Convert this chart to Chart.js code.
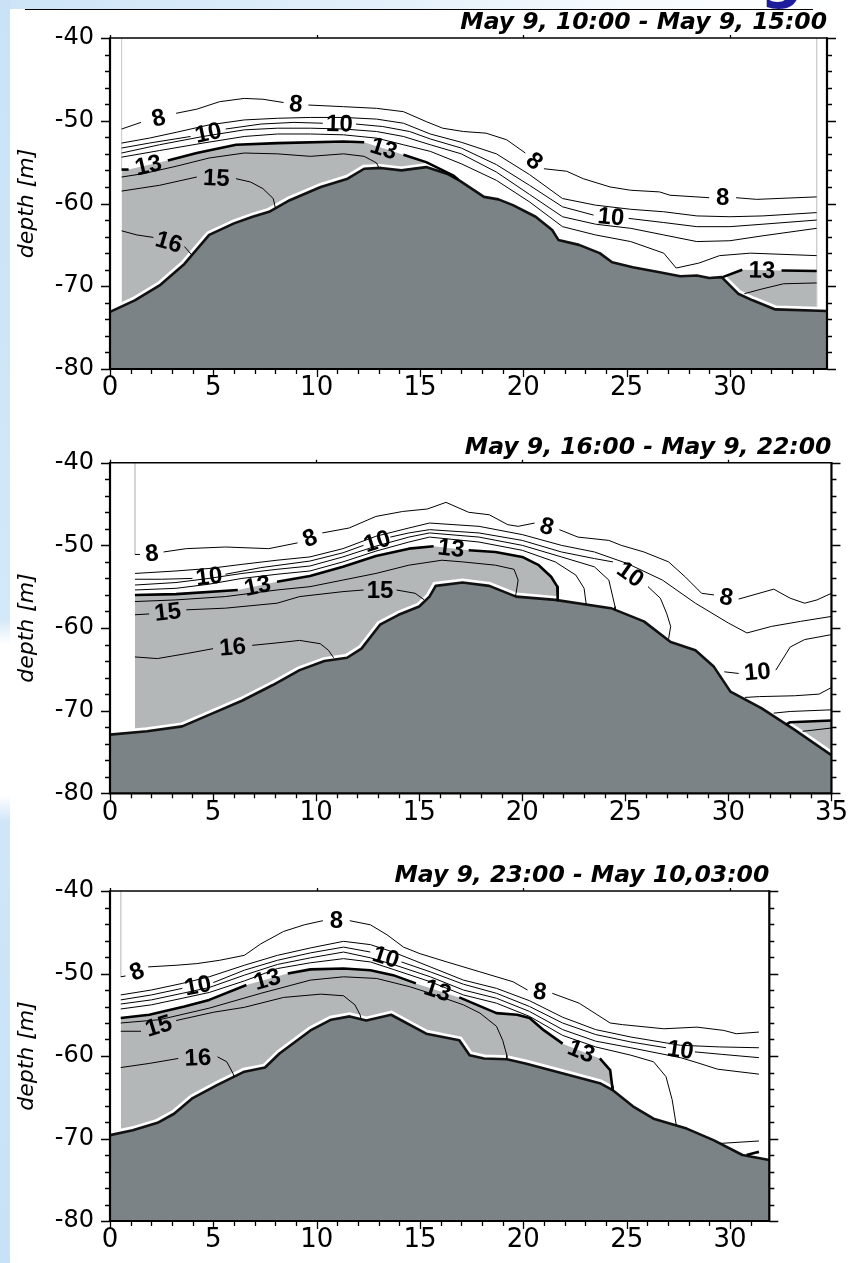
<!DOCTYPE html>
<html>
<head>
<meta charset="utf-8">
<script src="https://cdn.jsdelivr.net/npm/chart.js@4.4.1/dist/chart.umd.min.js"></script>
<style>
  html, body { margin: 0; padding: 0; background: #fff; }
  #page { position: relative; width: 852px; height: 1263px; overflow: hidden; background: #fff; }
  .topstrip { position: absolute; left: 0; top: 0; width: 852px; height: 9px;
    background: linear-gradient(to right, #cce4f7, #e3f0fa 45%, #f7fbfe 75%, #ffffff); }
  .leftstrip { position: absolute; left: 0; top: 0; width: 10px; height: 1263px;
    background: linear-gradient(to bottom, #c9e2f6 0%, #d3e8f8 49%, #ffffff 51%, #ffffff 63%, #d0e6f8 65%, #c7e1f6 100%); }
  .rule { position: absolute; left: 25px; top: 9px; width: 788px; height: 1px; background: #000; }
  .gclip { position: absolute; left: 758px; top: 0; width: 45px; height: 11px; overflow: hidden; }
  .gclip span { position: absolute; left: 2px; top: -55px; font: bold 60px/60px "DejaVu Sans"; color: #1d1d9b; }
  .box { position: absolute; left: 0; }
  canvas { display: block; }
</style>
</head>
<body>
<div id="page">
  <div class="topstrip"></div>
  <div class="leftstrip"></div>
  <div class="rule"></div>
  <div class="gclip"><span>g</span></div>
  <div class="box" style="top:0px"><canvas id="c1" width="852" height="420"></canvas></div>
  <div class="box" style="top:420px"><canvas id="c2" width="852" height="420"></canvas></div>
  <div class="box" style="top:840px"><canvas id="c3" width="852" height="423"></canvas></div>
</div>
<script>
// tick labels
const depthTicks = [-80, -70, -60, -50, -40];
const distTicks = [0, 5, 10, 15, 20, 25, 30, 35];

// ---------- panel 1 : May 9, 10:00 - May 9, 15:00 ----------
const p1Title = 'May 9, 10:00 - May 9, 15:00';
const p1XMax = 34.7;
const p1Bottom = [[0,-73.1],[1.2,-71.7],[2.4,-69.9],[3.6,-67.3],[4.8,-63.8],[6.0,-62.4],[6.9,-61.6],[7.7,-61.0],[8.7,-59.6],[10.2,-58.0],[11.5,-57.0],[12.3,-55.8],[13.1,-55.7],[14.1,-56.0],[15.3,-55.6],[16.3,-56.4],[16.9,-57.2],[18.1,-59.2],[18.8,-59.5],[19.5,-60.2],[20.6,-61.6],[21.4,-63.2],[21.7,-64.4],[22.7,-65.0],[23.7,-66.0],[24.3,-67.1],[25.3,-67.7],[26.6,-68.3],[27.6,-68.8],[28.4,-68.7],[29.0,-69.0],[29.6,-68.9],[30.4,-70.9],[31.1,-71.7],[32.2,-72.8],[34.7,-73.0]];
const p1C8 = [[0.56,-51.0],[1.5,-50.2],[3.2,-49.1],[4.2,-48.6],[5.3,-47.7],[6.5,-47.3],[7.4,-47.4],[8.4,-47.8],[9.6,-48.1],[11.3,-48.3],[12.9,-48.5],[14.2,-48.9],[15.3,-50.1],[16.1,-50.9],[17.1,-51.3],[18.2,-51.5],[19.2,-52.3],[20.1,-53.9],[21.0,-55.8],[22.1,-56.1],[22.9,-57.0],[24.2,-58.0],[25.2,-58.4],[26.6,-58.6],[27.1,-59.0],[29.0,-59.3],[30.3,-59.3],[31.3,-59.5],[34.2,-59.2]];
const p1C9 = [[0.56,-52.7],[1.9,-52.1],[3.2,-51.4],[4.8,-50.5],[6.5,-49.9],[8.1,-49.7],[9.7,-49.6],[11.3,-49.6],[12.9,-49.8],[14.2,-50.3],[15.5,-51.6],[17.0,-52.6],[18.7,-54.0],[20.3,-56.5],[21.9,-59.4],[23.5,-60.2],[25.2,-60.7],[26.8,-61.0],[28.4,-61.5],[30.0,-61.6],[31.6,-61.5],[34.2,-61.1]];
const p1C10 = [[0.56,-53.3],[1.9,-52.7],[3.9,-51.9],[5.6,-51.0],[7.3,-50.4],[8.9,-50.2],[10.3,-50.3],[11.9,-50.4],[13.2,-50.7],[14.5,-51.3],[15.5,-52.2],[17.0,-53.3],[18.7,-55.3],[20.3,-57.8],[21.9,-60.4],[23.4,-61.4],[25.1,-61.8],[26.8,-62.3],[28.4,-62.8],[30.0,-62.8],[31.6,-62.5],[34.2,-62.0]];
const p1C11 = [[0.56,-53.9],[2.4,-52.9],[4.5,-51.9],[6.5,-51.1],[8.1,-50.9],[9.7,-50.9],[11.3,-51.0],[12.9,-51.3],[14.2,-51.9],[15.5,-52.9],[17.0,-54.0],[18.7,-56.2],[20.3,-58.9],[21.9,-61.6],[23.5,-62.5],[25.2,-63.0],[26.8,-63.8],[28.4,-64.6],[30.0,-64.5],[31.6,-63.9],[34.2,-63.0]];
const p1C12 = [[0.56,-54.4],[2.4,-53.6],[4.5,-52.7],[6.5,-51.9],[8.1,-51.6],[9.7,-51.6],[11.3,-51.7],[12.9,-52.1],[14.2,-52.9],[15.5,-53.7],[17.0,-55.2],[18.7,-57.2],[20.3,-59.8],[21.9,-62.8],[23.5,-63.8],[25.2,-64.6],[26.8,-66.0],[27.4,-67.8],[28.5,-67.2],[29.5,-66.3],[31.0,-66.0],[34.2,-66.3]];
const p1C13a = [[0.56,-55.9],[0.9,-55.9],[2.8,-54.8],[4.2,-53.9],[6.1,-52.9],[8.1,-52.7],[11.3,-52.5],[12.3,-52.6],[14.2,-54.1],[15.3,-55.0],[16.6,-56.6],[16.85,-57.1]];
const p1C13b = [[29.65,-68.9],[30.6,-68.0],[32.5,-68.1],[34.2,-68.15]];
const p1C14a = [[0.56,-56.8],[1.6,-56.4],[3.2,-55.5],[4.8,-54.5],[6.5,-53.9],[8.1,-54.0],[9.7,-54.3],[11.3,-54.0],[12.3,-54.3],[12.9,-55.1],[13.0,-55.6]];
const p1C14b = [[30.7,-70.9],[31.6,-70.3],[32.6,-69.7],[34.2,-69.6]];
const p1C15 = [[0.56,-58.5],[2.4,-57.8],[4.2,-56.8],[6.1,-57.0],[6.8,-57.4],[7.4,-58.2],[7.9,-59.4],[8.0,-60.5]];
const p1C16 = [[0.56,-63.3],[1.3,-63.8],[2.1,-64.1],[3.6,-65.2],[3.95,-66.2]];
const p1Edges = [[[0.56,-40],[0.56,-55.9]], [[34.2,-40],[34.2,-73.0]]];
// [level, line, label segments]
const p1Contours = [
  [8, p1C8, [1, 7, 17, 25]], [9, p1C9, []], [10, p1C10, [2, 6, 15]], [11, p1C11, []], [12, p1C12, []],
  [13, p1C13a, [1, 7]], [13, p1C13b, [1]], [14, p1C14a, []], [14, p1C14b, []], [15, p1C15, [2]], [16, p1C16, [2]]
];

// ---------- panel 2 : May 9, 16:00 - May 9, 22:00 ----------
const p2Title = 'May 9, 16:00 - May 9, 22:00';
const p2XMax = 35;
const p2Bottom = [[0,-72.9],[1.8,-72.5],[3.5,-71.9],[5.0,-70.3],[6.4,-68.8],[7.9,-66.9],[9.2,-65.1],[10.4,-64.0],[11.5,-63.6],[12.2,-62.5],[13.1,-59.6],[14.0,-58.4],[15.0,-57.4],[15.5,-56.2],[15.8,-54.9],[17.1,-54.5],[18.4,-54.9],[19.7,-56.2],[21.6,-56.6],[24.3,-57.6],[25.9,-59.2],[27.2,-61.7],[28.4,-62.7],[29.3,-64.7],[30.1,-67.7],[31.6,-69.7],[33.2,-72.3],[35,-75.4]];
const p2C8 = [[1.21,-51.1],[1.45,-51.1],[2.6,-50.8],[3.7,-50.4],[5.6,-50.2],[7.7,-50.4],[9.1,-49.7],[10.3,-48.5],[11.6,-47.9],[12.9,-46.5],[14.2,-45.9],[15.4,-45.6],[16.3,-44.8],[17.4,-46.0],[18.4,-46.3],[19.3,-47.5],[19.8,-47.7],[20.6,-47.3],[21.8,-48.1],[22.7,-49.0],[24.2,-49.4],[24.8,-50.0],[25.9,-50.8],[27.1,-52.0],[27.9,-53.8],[28.7,-55.8],[29.3,-56.0],[30.5,-56.5],[32.2,-55.3],[33.0,-56.4],[33.7,-57.0],[34.3,-56.6],[35,-55.8]];
const p2C9 = [[1.21,-53.4],[3.2,-53.1],[4.8,-52.8],[6.4,-52.3],[8.1,-51.8],[9.7,-51.4],[11.3,-50.4],[12.9,-48.9],[14.5,-47.9],[15.5,-47.3],[17.9,-47.7],[20.0,-48.7],[21.9,-50.0],[23.5,-50.8],[25.1,-52.2],[26.8,-54.2],[28.4,-57.0],[30.0,-59.4],[30.9,-60.6],[32.1,-59.8],[33.5,-59.2],[35,-58.6]];
const p2C10 = [[1.21,-54.1],[2.5,-54.1],[4.0,-54.0],[5.6,-53.5],[7.3,-52.7],[9.7,-51.9],[11.3,-50.9],[12.3,-50.0],[13.6,-49.0],[14.5,-48.5],[15.5,-48.1],[17.9,-48.5],[20.0,-49.4],[21.9,-50.8],[23.5,-51.6],[24.4,-52.0],[26.1,-55.0],[26.7,-56.4],[27.0,-58.2],[27.2,-59.8],[27.1,-61.3]];
const p2C10r = [[29.8,-65.3],[30.5,-65.5],[32.3,-65.1],[33.0,-62.3],[33.7,-61.4],[35,-60.8]];
const p2C11 = [[1.21,-54.8],[3.2,-54.5],[4.8,-54.0],[6.4,-53.4],[8.1,-52.9],[9.7,-52.5],[11.3,-51.4],[12.9,-50.1],[14.5,-49.0],[15.5,-48.5],[17.9,-49.0],[20.0,-50.0],[21.9,-51.4],[23.5,-52.6],[24.2,-54.2],[24.5,-57.4],[24.5,-57.8]];
const p2C11r = [[30.8,-68.4],[31.5,-68.3],[33.2,-68.2],[34.4,-68.0],[35,-67.2]];
const p2C12 = [[1.21,-55.4],[3.2,-55.2],[4.8,-54.7],[6.4,-54.0],[8.1,-53.5],[9.7,-53.1],[11.3,-52.0],[12.9,-50.7],[14.5,-49.6],[15.5,-49.0],[17.9,-49.6],[20.0,-50.6],[21.6,-52.0],[22.6,-53.6],[23.0,-55.2],[23.1,-57.1]];
const p2C12r = [[32.2,-70.3],[33.0,-70.1],[35,-69.9]];
const p2C13 = [[1.21,-56.0],[3.2,-55.9],[6.2,-55.4],[8.1,-54.4],[9.7,-53.7],[11.3,-52.6],[12.9,-51.3],[14.5,-50.4],[15.7,-50.1],[17.4,-50.6],[18.7,-50.8],[20.0,-51.4],[20.8,-52.4],[21.4,-53.8],[21.7,-55.0],[21.72,-56.6]];
const p2C13r = [[32.8,-71.7],[33.0,-71.4],[35,-71.2]];
const p2C14 = [[1.21,-56.8],[3.2,-56.6],[5.6,-56.2],[8.1,-55.4],[9.7,-55.0],[11.3,-54.2],[12.9,-53.4],[14.5,-52.4],[16.1,-51.8],[17.1,-52.0],[18.7,-52.4],[19.6,-52.9],[19.8,-54.2],[19.7,-55.8],[19.66,-56.2]];
const p2C14r = [[33.6,-72.5],[35,-72.1]];
const p2C15 = [[1.21,-58.4],[1.9,-58.3],[3.7,-57.8],[5.6,-57.6],[8.1,-57.0],[9.2,-56.2],[11.3,-55.6],[12.3,-55.4],[13.9,-55.4],[14.8,-55.8],[15.25,-56.6]];
const p2C16 = [[1.21,-63.5],[2.3,-63.7],[3.7,-63.1],[5.0,-62.5],[6.9,-62.1],[8.1,-61.8],[9.2,-61.5],[10.2,-61.9],[10.6,-62.7],[10.85,-63.6]];
const p2Edges = [[[1.21,-40],[1.21,-51.1]]];
const p2Contours = [
  [8, p2C8, [1, 6, 17, 26]], [9, p2C9, []], [10, p2C10, [2, 7, 15]], [10, p2C10r, [1]],
  [11, p2C11, []], [11, p2C11r, []], [12, p2C12, []], [12, p2C12r, []],
  [13, p2C13, [2, 8]], [13, p2C13r, []], [14, p2C14, []], [14, p2C14r, []], [15, p2C15, [1, 7]], [16, p2C16, [3]]
];

// ---------- panel 3 : May 9, 23:00 - May 10, 03:00 ----------
const p3Title = 'May 9, 23:00 - May 10,03:00';
const p3XMax = 31.9;
const p3Bottom = [[0,-69.6],[1.1,-69.0],[2.3,-68.1],[3.1,-67.0],[4.0,-65.1],[5.2,-63.5],[6.5,-61.9],[7.5,-61.4],[8.2,-59.7],[9.7,-56.9],[10.7,-55.6],[11.6,-55.2],[12.4,-55.7],[13.6,-55.0],[15.3,-57.3],[16.9,-58.1],[17.4,-59.9],[18.1,-60.3],[19.2,-60.4],[20.1,-60.9],[22.2,-62.3],[23.7,-63.3],[24.3,-64.1],[25.3,-66.1],[26.3,-67.6],[27.9,-68.8],[29.2,-70.2],[30.6,-72.0],[31.9,-72.6]];
const p3C8 = [[0.52,-50.4],[0.75,-50.3],[1.85,-49.2],[3.2,-49.0],[4.2,-48.8],[5.3,-48.4],[6.5,-47.8],[7.3,-46.4],[8.4,-44.9],[9.4,-44.1],[10.3,-43.6],[11.6,-43.6],[12.6,-44.1],[13.4,-45.3],[14.2,-46.8],[15.0,-47.6],[16.3,-48.6],[17.9,-49.8],[19.5,-51.0],[20.2,-52.0],[21.4,-52.4],[22.7,-53.6],[24.2,-56.0],[24.8,-56.2],[26.8,-56.7],[28.4,-56.5],[29.7,-56.9],[30.3,-57.3],[31.4,-57.1]];
const p3C9 = [[0.52,-52.6],[2.0,-52.0],[3.5,-51.2],[4.8,-50.4],[6.5,-49.0],[8.1,-47.8],[9.7,-46.9],[11.3,-46.1],[12.6,-46.5],[13.7,-47.4],[15.5,-49.2],[17.1,-50.8],[18.7,-51.8],[20.3,-53.3],[21.9,-55.3],[23.5,-56.8],[25.2,-57.7],[27.6,-58.7],[29.5,-58.9],[31.4,-59.0]];
const p3C10 = [[0.52,-53.2],[2.0,-52.6],[3.5,-51.8],[5.0,-51.1],[6.5,-49.6],[8.1,-48.4],[9.7,-47.5],[11.3,-46.8],[12.6,-47.4],[14.1,-48.6],[15.5,-49.8],[17.1,-51.3],[18.7,-52.4],[20.3,-54.0],[21.9,-56.0],[23.5,-57.4],[25.2,-58.3],[26.9,-59.0],[28.3,-59.5],[29.6,-59.8],[31.4,-60.2]];
const p3C11 = [[0.52,-53.7],[2.0,-53.2],[3.5,-52.4],[4.8,-51.7],[6.5,-50.2],[8.1,-48.9],[9.7,-48.1],[11.3,-47.4],[12.6,-48.1],[13.7,-48.9],[15.5,-50.4],[17.1,-52.0],[18.7,-53.0],[20.3,-54.6],[21.9,-56.8],[23.5,-58.2],[25.2,-59.0],[27.6,-60.2],[28.4,-60.8],[29.4,-61.6],[31.4,-62.2]];
const p3C12 = [[0.52,-54.3],[2.0,-53.8],[3.5,-53.0],[4.8,-52.3],[6.5,-50.9],[8.1,-49.4],[9.7,-48.7],[11.3,-48.2],[12.6,-48.6],[13.7,-49.5],[15.5,-51.0],[17.1,-52.6],[18.7,-53.6],[20.3,-55.2],[21.9,-57.5],[23.5,-58.9],[25.2,-59.9],[26.3,-60.7],[26.9,-62.5],[27.2,-65.3],[27.4,-68.4]];
const p3C12r = [[29.5,-70.6],[31.4,-70.3]];
const p3C13 = [[0.52,-55.4],[1.9,-55.0],[3.6,-54.0],[4.8,-53.2],[6.6,-51.4],[8.6,-50.0],[9.7,-49.5],[11.3,-49.4],[12.6,-49.6],[13.7,-50.2],[14.8,-51.2],[16.9,-52.9],[18.7,-54.8],[19.7,-55.0],[20.3,-55.4],[21.0,-56.9],[21.9,-58.5],[23.7,-60.3],[24.2,-61.7],[24.3,-63.7],[24.32,-64.1]];
const p3C13r = [[30.8,-72.0],[31.4,-71.6]];
const p3C14 = [[0.52,-56.0],[2.4,-55.6],[4.8,-54.2],[7.3,-52.4],[9.7,-50.8],[11.3,-50.4],[12.9,-50.6],[14.5,-51.6],[15.5,-52.4],[17.1,-53.8],[17.9,-54.8],[18.7,-56.4],[19.0,-58.1],[19.2,-59.9],[19.2,-60.4]];
const p3C15 = [[0.52,-57.0],[1.5,-57.0],[3.2,-55.7],[5.0,-54.7],[6.5,-54.1],[8.4,-52.9],[10.2,-52.5],[11.3,-52.7],[11.85,-53.8],[12.1,-55.0],[12.15,-55.5]];
const p3C16 = [[0.52,-61.4],[1.9,-60.9],[3.3,-60.3],[5.2,-60.1],[5.65,-60.7],[5.95,-62.1],[6.0,-62.5]];
const p3Edges = [[[0.52,-40],[0.52,-50.4]]];
const p3Contours = [
  [8, p3C8, [1, 10, 19]], [9, p3C9, []], [10, p3C10, [2, 8, 17]], [11, p3C11, []],
  [12, p3C12, []], [12, p3C12r, []], [13, p3C13, [4, 10, 16]], [13, p3C13r, []],
  [14, p3C14, []], [15, p3C15, [1]], [16, p3C16, [2]]
];

const DARK = '#7b8386';
const LIGHT = '#b4b7b8';
const FONT = 'DejaVu Sans';

function pts(arr) {
  return arr.map(p => ({ x: p[0], y: p[1] }));
}

function makePanel(id, xMax, title, bottom, contours, edges, pad) {
  let datasets = [];

  edges.forEach(e => {
    datasets.push({ data: pts(e), borderColor: '#cfcfcf', borderWidth: 1, fill: false, order: 9 });
  });

  contours.forEach(c => {
    const lvl = c[0], gaps = c[2];
    const thick = lvl === 13;
    if (thick) {
      // water warmer than 13 degrees, filled separately so the labels' gaps leave no seams
      datasets.push({ data: pts(c[1]), borderWidth: 0, borderColor: 'rgba(0,0,0,0)',
        fill: 'start', backgroundColor: LIGHT, order: 8 });
    }
    datasets.push({
      data: pts(c[1]),
      borderColor: '#000',
      borderWidth: thick ? 2.6 : 1,
      borderJoinStyle: 'round',
      fill: false,
      order: thick ? 3 : 2,
      segment: {
        borderColor: ctx => gaps.includes(ctx.p0DataIndex) ? 'rgba(0,0,0,0)' : '#000'
      }
    });
  });

  // white seam between the grey water and the sea floor
  datasets.push({ data: pts(bottom), borderColor: '#fff', borderWidth: 8, fill: false, order: 6 });
  datasets.push({ data: pts(bottom), borderColor: '#111', borderWidth: 2.6, borderJoinStyle: 'round',
    fill: 'start', backgroundColor: DARK, order: 4 });

  const labels = {
    id: 'labels' + id,
    afterDatasetsDraw(chart) {
      const ctx = chart.ctx, xs = chart.scales.x, ys = chart.scales.y;
      ctx.save();
      ctx.fillStyle = '#000';
      ctx.font = 'bold 24px "Liberation Sans"';
      ctx.textAlign = 'center';
      ctx.textBaseline = 'middle';
      contours.forEach(c => {
        c[2].forEach(i => {
          const a = c[1][i], b = c[1][i + 1];
          const x0 = xs.getPixelForValue(a[0]), y0 = ys.getPixelForValue(a[1]);
          const x1 = xs.getPixelForValue(b[0]), y1 = ys.getPixelForValue(b[1]);
          let ang = Math.atan2(y1 - y0, x1 - x0);
          if (ang > Math.PI / 2) ang -= Math.PI;
          if (ang < -Math.PI / 2) ang += Math.PI;
          ctx.save();
          ctx.translate((x0 + x1) / 2, (y0 + y1) / 2);
          ctx.rotate(ang);
          ctx.fillText(String(c[0]), 0, 1);
          ctx.restore();
        });
      });
      ctx.restore();
    }
  };

  const frame = {
    id: 'frame' + id,
    afterDraw(chart) {
      const ctx = chart.ctx, a = chart.chartArea;
      const xs = chart.scales.x, ys = chart.scales.y;
      ctx.save();
      ctx.strokeStyle = '#000';
      ctx.lineCap = 'butt';

      ctx.lineWidth = 1.5;
      ctx.beginPath();
      ctx.moveTo(a.left, a.top); ctx.lineTo(a.right, a.top);
      ctx.stroke();

      ctx.lineWidth = 2.2;
      ctx.beginPath();
      ctx.moveTo(a.left, a.top - 0.7); ctx.lineTo(a.left, a.bottom);
      ctx.lineTo(a.right, a.bottom); ctx.lineTo(a.right, a.top - 0.7);
      ctx.stroke();

      ctx.lineWidth = 1.3;
      ctx.beginPath();
      for (let v = -80; v <= -40; v += 2) {
        const y = Math.round(ys.getPixelForValue(v)) + 0.5;
        const len = v % 10 === 0 ? 9 : 5;
        ctx.moveTo(a.left, y); ctx.lineTo(a.left - len, y);
        ctx.moveTo(a.right, y); ctx.lineTo(a.right + len, y);
      }
      for (let v = 0; v <= xMax + 0.001; v += 1) {
        const x = Math.round(xs.getPixelForValue(v)) + 0.5;
        const len = v % 5 === 0 ? 8 : 5;
        ctx.moveTo(x, a.bottom); ctx.lineTo(x, a.bottom + len);
        if (v % 10 === 0) { ctx.moveTo(x, a.top); ctx.lineTo(x, a.top - 3); }
      }
      ctx.stroke();

      ctx.fillStyle = '#000';
      ctx.font = 'italic bold 23.5px "' + FONT + '"';
      ctx.textAlign = 'right';
      ctx.textBaseline = 'alphabetic';
      ctx.fillText(title, a.right, a.top - 9);
      ctx.restore();
    }
  };

  return new Chart(document.getElementById(id), {
    type: 'line',
    data: { datasets: datasets },
    options: {
      responsive: false,
      animation: false,
      events: [],
      layout: { padding: pad },
      elements: { point: { radius: 0 }, line: { tension: 0 } },
      plugins: { legend: { display: false }, tooltip: { enabled: false }, title: { display: false } },
      scales: {
        x: {
          type: 'linear', min: 0, max: xMax,
          grid: { display: false, drawTicks: false },
          border: { display: false },
          afterBuildTicks: s => { s.ticks = distTicks.filter(v => v <= xMax + 0.001).map(v => ({ value: v })); },
          ticks: { autoSkip: false, maxRotation: 0, padding: 4, color: '#000', font: { family: FONT, size: 26 } },
          afterFit: s => { s.height = 40; }
        },
        y: {
          type: 'linear', min: -80, max: -40,
          grid: { display: false, drawTicks: false },
          border: { display: false },
          afterBuildTicks: s => { s.ticks = depthTicks.map(v => ({ value: v })); },
          ticks: { autoSkip: false, padding: 16, color: '#000', font: { family: FONT, size: 24 } },
          title: { display: true, text: 'depth [m]', color: '#000',
            font: { family: FONT, style: 'italic', size: 22 }, padding: { top: 14, bottom: 0 } },
          afterFit: s => { s.width = 110; }
        }
      }
    },
    plugins: [labels, frame]
  });
}

makePanel('c1', p1XMax, p1Title, p1Bottom, p1Contours, p1Edges, { top: 38, right: 25, bottom: 11, left: 0 });
makePanel('c2', p2XMax, p2Title, p2Bottom, p2Contours, p2Edges, { top: 42.7, right: 17.7, bottom: 6.7, left: 0 });
makePanel('c3', p3XMax, p3Title, p3Bottom, p3Contours, p3Edges, { top: 51, right: 82.7, bottom: 2, left: 0 });
</script>
</body>
</html>
